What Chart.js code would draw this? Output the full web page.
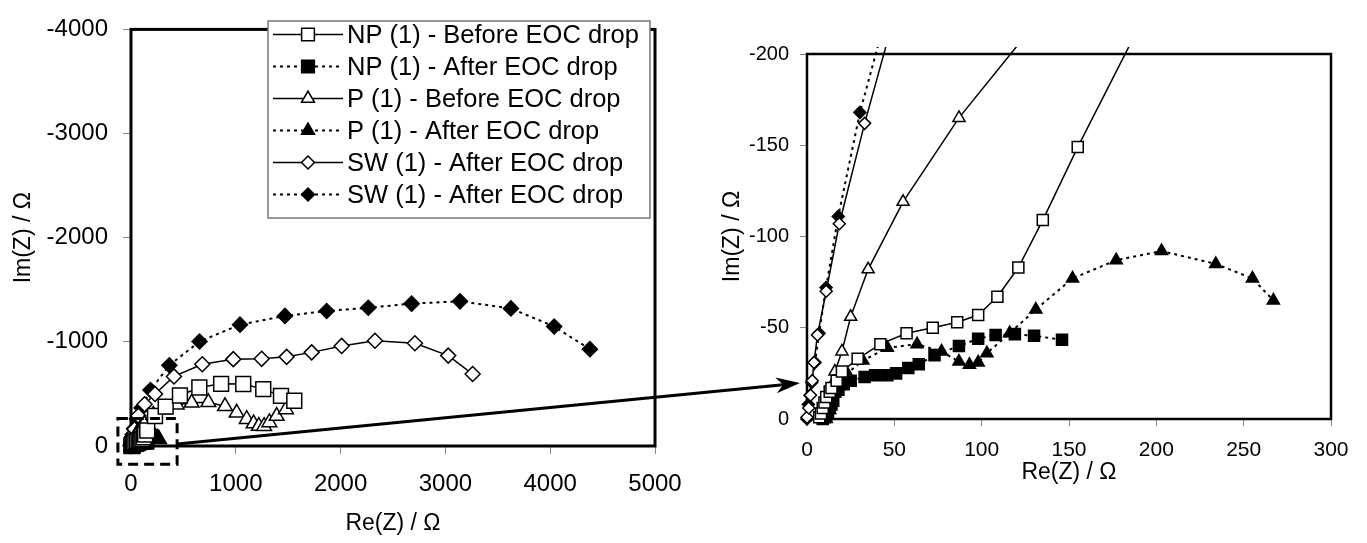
<!DOCTYPE html>
<html>
<head>
<meta charset="utf-8">
<script src="https://cdn.jsdelivr.net/npm/chart.js@4.4.1/dist/chart.umd.min.js"></script>
<style>
  html,body{margin:0;padding:0;background:#fff;}
  #wrap{position:relative;width:1367px;height:543px;overflow:hidden;}
  #cMain{position:absolute;left:0;top:0;}
  #cZoom{position:absolute;left:700px;top:0;}
</style>
</head>
<body>
<div id="wrap">
  <canvas id="cMain" width="1367" height="543"></canvas>
  <canvas id="cZoom" width="667" height="543"></canvas>
</div>
<script>
const FONT = "'Liberation Sans', Arial, Helvetica, sans-serif";
Chart.defaults.font.family = FONT;
Chart.defaults.color = '#000';

/* Nyquist data, [Re(Z), Im(Z)] in ohm */
const npBefore = [[7,-1],[8,-3],[9,-6],[10,-9],[11,-12],[13,-15],[14,-17],[17,-21],[20,-26],[29,-33],[42,-41],[57,-47],[72,-50],[86,-53],[98,-57],[109,-67],[121,-83],[135,-109],[155,-149],[229,-288],[331,-378],[467,-485],[652,-562],[860,-597],[1071,-595],[1262,-546],[1431,-481],[1558,-434]];
const npAfter = [[9,0],[10,-1],[11,-2],[12,-4],[13,-6],[14,-8],[15,-10],[18,-16],[21,-19],[25,-21],[33,-23],[39,-24],[46,-24],[51,-25],[58,-28],[64,-30],[73,-35],[87,-40],[98,-44],[108,-46],[119,-46.5],[130,-45.6],[146,-43.4]];
const pBefore = [[9,-1],[10,-4],[11,-8],[12,-12],[14,-18],[16,-26],[20,-37],[25,-56],[35,-82],[55,-119],[87,-165],[125,-210],[213,-298],[308,-350],[436,-397],[579,-415],[738,-420],[897,-381],[1008,-319],[1104,-258],[1170,-215],[1220,-192],[1270,-190],[1320,-226],[1390,-288],[1479,-351]];
const pAfter = [[11,0],[12,-2],[13,-5],[14,-9],[16,-14],[19,-19],[23,-25],[32,-32],[46,-39],[63,-41],[77,-37],[87,-31.5],[93,-29.7],[98,-31],[103,-36],[116,-47],[131,-60],[152,-77],[177,-87],[203,-92],[234,-85],[255,-77],[267,-65]];
const swBefore = [[0,-1],[1,-6],[2,-13],[3,-21],[4,-31],[6,-46],[11,-70],[18.5,-107],[33,-162],[70,-290],[130,-400],[229,-500],[410,-668],[680,-785],[976,-834],[1247,-837],[1485,-856],[1724,-899],[2010,-961],[2328,-1011],[2709,-986],[3027,-868],[3260,-691]];
const swAfter = [[0,0],[0.8,-8],[1.7,-13],[2.7,-20],[4.6,-31],[6.9,-47],[10.9,-72],[17.9,-111],[30.3,-168],[57,-262],[102,-366],[186,-537],[366,-775],[654,-1003],[1040,-1165],[1469,-1249],[1867,-1296],[2264,-1327],[2678,-1367],[3139,-1389],[3625,-1321],[4038,-1147],[4379,-930]];

const seriesNames = ['NP (1) - Before EOC drop','NP (1) - After EOC drop','P (1) - Before EOC drop','P (1) - After EOC drop','SW (1) - After EOC drop','SW (1) - After EOC drop'];

/* axis ranges */
const mainX = {min:0, max:5000, step:1000};
const mainY = {min:-4000, max:0, step:1000};
const zoomX = {min:0, max:300, step:50};
const zoomY = {min:-200, max:0, step:50};
const zoomBox = {x0:-125, x1:440, y0:-265, y1:175};   // dashed frame around the origin, data units
const arrowTip = [800, 383];                           // page pixels, points at the inset

const SERIES = [
  {name:seriesNames[0], data:npBefore, shape:'rect',     filled:false, dotted:false},
  {name:seriesNames[1], data:npAfter,  shape:'rect',     filled:true,  dotted:true},
  {name:seriesNames[2], data:pBefore,  shape:'triangle', filled:false, dotted:false},
  {name:seriesNames[3], data:pAfter,   shape:'triangle', filled:true,  dotted:true},
  {name:seriesNames[4], data:swBefore, shape:'rectRot',  filled:false, dotted:false},
  {name:seriesNames[5], data:swAfter,  shape:'rectRot',  filled:true,  dotted:true},
];
const SIZE_MAIN = {rect:10.5, triangle:8.5, rectRot:7.5};
const SIZE_ZOOM = {rect:7.8, triangle:7, rectRot:6};
const SIZE_LEG  = {rect:9, triangle:7.5, rectRot:6.5};
const DASH = [3,4];

function datasets(size){
  return SERIES.map(s=>({
    label:s.name,
    data:s.data.map(([x,y])=>({x,y})),
    showLine:true, tension:0, fill:false,
    borderColor:'#000', borderWidth:s.dotted?2:1.5, borderDash:s.dotted?DASH:[],
    pointStyle:s.shape, pointRadius:size[s.shape], pointHoverRadius:size[s.shape],
    pointBorderWidth:1.5, pointBorderColor:'#000',
    pointBackgroundColor:s.filled?'#000':'#fff', backgroundColor:s.filled?'#000':'#fff',
    clip:{left:10, top:7, right:10, bottom:10}
  }));
}

function axis(r, {reverse=false, title, size, tickLen, tickPad, titlePad, fit}){
  return {
    type:'linear', min:r.min, max:r.max, reverse,
    ticks:{stepSize:r.step, autoSkip:false, maxRotation:0, padding:tickPad, color:'#000',
           font:{size}, callback:v=>String(v)},
    grid:{drawOnChartArea:false, drawTicks:true, tickLength:tickLen, color:'#888', lineWidth:1},
    border:{display:false},
    title:{display:true, text:title, color:'#000', font:{size:23}, padding:titlePad},
    afterFit:fit
  };
}

/* heavy frame round the plot area */
const framePlugin = {
  id:'frame',
  beforeDatasetsDraw(chart, args, opts){
    const {ctx, chartArea:a} = chart;
    ctx.save();
    ctx.strokeStyle = '#000'; ctx.lineWidth = opts.width || 3;
    ctx.strokeRect(a.left, a.top, a.right - a.left, a.bottom - a.top);
    ctx.restore();
  }
};

/* boxed legend, line sample with marker in the middle */
const legendPlugin = {
  id:'boxLegend',
  afterDraw(chart){
    const ctx = chart.ctx;
    const L = 268, T = 21, W = 382, H = 197, row = 32;
    ctx.save();
    ctx.fillStyle = '#fff'; ctx.fillRect(L, T, W, H);
    ctx.strokeStyle = '#777'; ctx.lineWidth = 1.5; ctx.strokeRect(L, T, W, H);
    SERIES.forEach((s, i) => {
      const y = T + 13.5 + i * row;
      ctx.strokeStyle = '#000';
      ctx.lineWidth = s.dotted ? 2 : 1.5;
      ctx.setLineDash(s.dotted ? DASH : []);
      ctx.beginPath(); ctx.moveTo(273, y); ctx.lineTo(343, y); ctx.stroke();
      ctx.setLineDash([]);
      ctx.lineWidth = 1.5;
      ctx.fillStyle = s.filled ? '#000' : '#fff';
      Chart.helpers.drawPoint(ctx, {pointStyle:s.shape, radius:SIZE_LEG[s.shape], rotation:0, borderWidth:1.5}, 308, y);
      ctx.fillStyle = '#000';
      ctx.font = '25.5px ' + FONT;
      ctx.textAlign = 'left'; ctx.textBaseline = 'middle';
      ctx.fillText(s.name, 347, y + 1);
    });
    ctx.restore();
  }
};

/* dashed zoom frame + arrow towards the inset */
const zoomMarkPlugin = {
  id:'zoomMark',
  afterDatasetsDraw(chart){
    const {ctx, scales:{x, y}} = chart;
    const x0 = x.getPixelForValue(zoomBox.x0), x1 = x.getPixelForValue(zoomBox.x1);
    const y0 = y.getPixelForValue(zoomBox.y0), y1 = y.getPixelForValue(zoomBox.y1);
    ctx.save();
    ctx.strokeStyle = '#000'; ctx.fillStyle = '#000';
    ctx.lineWidth = 3; ctx.setLineDash([10,6]);
    ctx.strokeRect(Math.min(x0,x1), Math.min(y0,y1), Math.abs(x1-x0), Math.abs(y1-y0));
    ctx.setLineDash([]);
    const sx = x1, sy = y.getPixelForValue(0) - 2;
    const [ex, ey] = arrowTip;
    const ang = Math.atan2(ey - sy, ex - sx);
    const hl = 24, hw = 8, notch = 7;
    ctx.beginPath();
    ctx.moveTo(sx, sy);
    ctx.lineTo(ex - (hl - notch) * Math.cos(ang), ey - (hl - notch) * Math.sin(ang));
    ctx.stroke();
    ctx.translate(ex, ey); ctx.rotate(ang);
    ctx.beginPath();
    ctx.moveTo(0, 0); ctx.lineTo(-hl, -hw); ctx.lineTo(-hl + notch, 0); ctx.lineTo(-hl, hw);
    ctx.closePath(); ctx.fill();
    ctx.restore();
  }
};

new Chart(document.getElementById('cMain'), {
  type:'scatter',
  data:{datasets:datasets(SIZE_MAIN)},
  options:{
    responsive:false, animation:false,
    layout:{padding:{left:0, top:16, right:712, bottom:0}},
    plugins:{legend:{display:false}, tooltip:{enabled:false}, frame:{width:3}},
    scales:{
      x:axis(mainX, {title:'Re(Z) / Ω', size:24, tickLen:8, tickPad:15.6, titlePad:{top:0, bottom:5.2}, fit:s=>{s.height=97;}}),
      y:axis(mainY, {reverse:true, title:'Im(Z) / Ω', size:24, tickLen:8, tickPad:15, titlePad:{top:10, bottom:0}, fit:s=>{s.width=131;}})
    }
  },
  plugins:[framePlugin, zoomMarkPlugin, legendPlugin]
});

new Chart(document.getElementById('cZoom'), {
  type:'scatter',
  data:{datasets:datasets(SIZE_ZOOM)},
  options:{
    responsive:false, animation:false,
    layout:{padding:{left:18.5, top:54, right:36, bottom:56.2}},
    plugins:{legend:{display:false}, tooltip:{enabled:false}, frame:{width:2.5}},
    scales:{
      x:axis(zoomX, {title:'Re(Z) / Ω', size:21, tickLen:7, tickPad:12, titlePad:{top:0, bottom:0}, fit:s=>{s.height=67.8;}}),
      y:axis(zoomY, {reverse:true, title:'Im(Z) / Ω', size:20, tickLen:7, tickPad:11, titlePad:{top:0, bottom:0}, fit:s=>{s.width=88.5;}})
    }
  },
  plugins:[framePlugin]
});
</script>
</body>
</html>
